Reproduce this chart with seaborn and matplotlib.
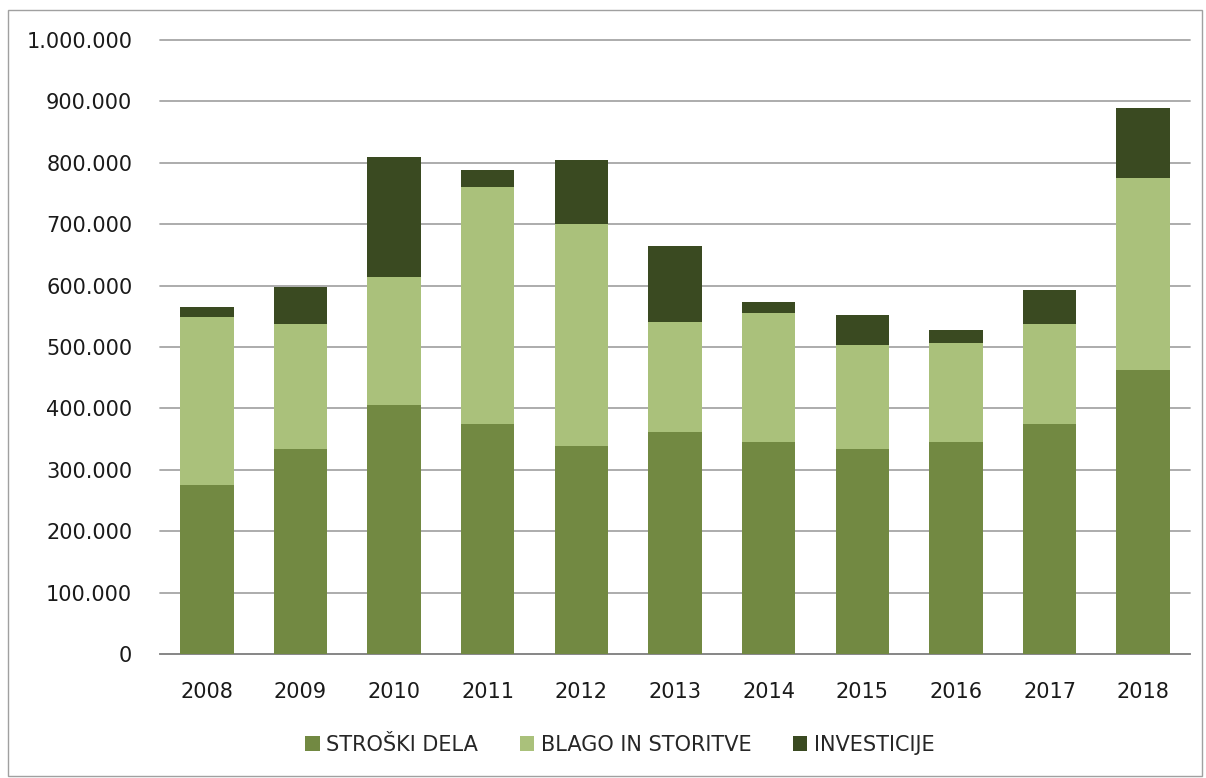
import numpy as np
import pandas as pd
import seaborn as sns
from matplotlib import pyplot as plt
from matplotlib.patches import Rectangle, Patch
from matplotlib.ticker import FuncFormatter

# podatki (odčitano s slike)
leta = ['2008', '2009', '2010', '2011', '2012', '2013', '2014', '2015', '2016', '2017', '2018']
stroski_dela = [276000, 334000, 405000, 374000, 339000, 362000, 345000, 334000, 345000, 375000, 462000]
blago_storitve = [273000, 203000, 209000, 387000, 361000, 179000, 211000, 170000, 161000, 162000, 313000]
investicije = [16000, 61000, 196000, 27000, 105000, 124000, 17000, 48000, 21000, 56000, 115000]

serije = ['STROŠKI DELA', 'BLAGO IN STORITVE', 'INVESTICIJE']
barve = ['#728942', '#AAC17B', '#3A4A21']

df = pd.DataFrame({'leto': leta, serije[0]: stroski_dela,
                   serije[1]: blago_storitve, serije[2]: investicije})
kum = df[serije].cumsum(axis=1)

sns.set_style('white')
plt.rcParams['font.family'] = ['DejaVu Sans']

fig = plt.figure(figsize=(12.06, 7.78), dpi=100)
ax = fig.add_axes([0.1327, 0.1594, 0.854, 0.7892])

# zložen stolpec: najprej skupni seštevek, nato spodnji deli čez
for s, c in zip(serije[::-1], barve[::-1]):
    sns.barplot(x=df['leto'], y=kum[s], color=c, width=0.57, saturation=1,
                ax=ax, zorder=3, edgecolor='none')

ax.set_ylim(0, 1000000)
ax.set_yticks(np.arange(0, 1000001, 100000))
ax.yaxis.set_major_formatter(FuncFormatter(lambda v, p: f'{int(v):,}'.replace(',', '.')))
ax.grid(axis='y', color='#A6A6A6', linewidth=1.3, zorder=0)
for gl in ax.get_ygridlines():
    gl.set_clip_on(False)
ax.set_axisbelow(True)
ax.set_xlabel('')
ax.set_ylabel('')
ax.set_xlim(-0.5, len(leta) - 0.5)
for sp in ['top', 'right', 'left']:
    ax.spines[sp].set_visible(False)
ax.spines['bottom'].set_color('#868686')
ax.spines['bottom'].set_linewidth(1.3)
ax.tick_params(axis='both', length=0, labelsize=15, colors='#1a1a1a')
ax.tick_params(axis='y', pad=20)
ax.tick_params(axis='x', pad=20)

handles = [Patch(facecolor=c, edgecolor='none') for c in barve]
fig.legend(handles, serije, loc='center', bbox_to_anchor=(0.514, 0.043), ncol=3,
           frameon=False, fontsize=15, handlelength=0.7, handleheight=0.7,
           handletextpad=0.3, columnspacing=2.0)

fig.patches.append(Rectangle((0.0066, 0.003), 0.99, 0.984, transform=fig.transFigure,
                             fill=False, edgecolor='#A0A0A0', linewidth=1))

fig.savefig('out.png', dpi=100)
